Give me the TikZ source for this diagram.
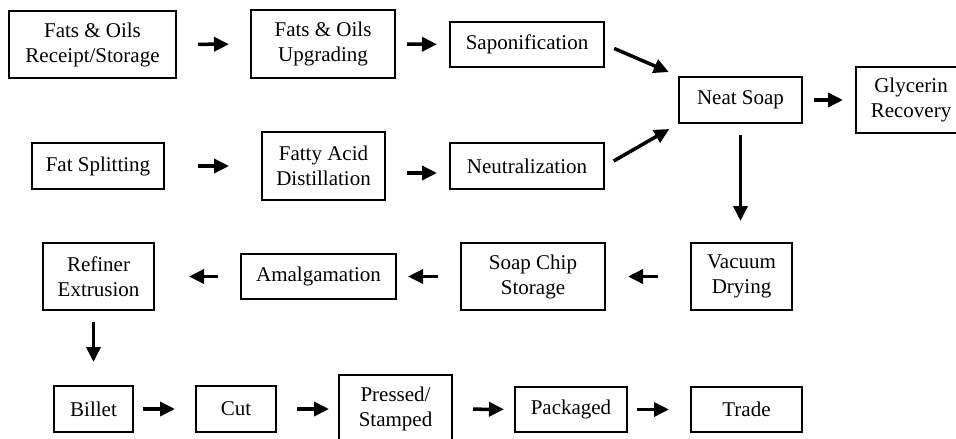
\documentclass[tikz,border=0pt]{standalone}
\usepackage{fontspec}
\setmainfont{Liberation Serif}
\usetikzlibrary{arrows.meta}

\begin{document}
\begin{tikzpicture}[x=1pt,y=-1pt,>={Triangle[length=15pt,width=14pt]},
  stage/.style={draw,line width=2pt,align=center,inner sep=0pt,font=\fontsize{21}{25}\selectfont},
  flow/.style={->,line width=3.5pt}]
  \useasboundingbox (0,0) rectangle (956,439);
  % first row
  \node[stage,minimum width=167pt,minimum height=67pt] (rcpt) at (92.5,44.5) {Fats \& Oils\\Receipt/Storage};
  \node[stage,minimum width=144pt,minimum height=68pt] (upgr) at (323,44) {Fats \& Oils\\Upgrading};
  \node[stage,minimum width=154pt,minimum height=45pt] (sapon) at (527,44.5) {Saponification};
  % second row
  \node[stage,minimum width=132pt,minimum height=46pt] (split) at (98,166) {Fat Splitting};
  \node[stage,minimum width=123pt,minimum height=68pt] (distil) at (323.5,166) {Fatty Acid\\Distillation};
  \node[stage,minimum width=154pt,minimum height=46pt] (neutr) at (527,166) {Neutralization};
  \node[stage,minimum width=123pt,minimum height=46pt] (neat) at (740.5,100) {Neat Soap};
  \node[stage,minimum width=110pt,minimum height=66pt] (glyc) at (911,100) {Glycerin\\Recovery};
  % third row
  \node[stage,minimum width=101pt,minimum height=67pt] (vacuum) at (741.5,276.5) {Vacuum\\Drying};
  \node[stage,minimum width=144pt,minimum height=67pt] (chip) at (533,276.5) {Soap Chip\\Storage};
  \node[stage,minimum width=155pt,minimum height=45pt] (amalg) at (318.5,276.5) {Amalgamation};
  \node[stage,minimum width=111pt,minimum height=67pt] (refin) at (98.5,276.5) {Refiner\\Extrusion};
  % last row
  \node[stage,minimum width=79pt,minimum height=46pt] (billet) at (93.5,409) {Billet};
  \node[stage,minimum width=80pt,minimum height=46pt] (cut) at (236,409) {Cut};
  \node[stage,minimum width=113pt,minimum height=68pt] (press) at (395.5,409) {Pressed/\\Stamped};
  \node[stage,minimum width=112pt,minimum height=45pt] (pack) at (571,409.5) {Packaged};
  \node[stage,minimum width=111pt,minimum height=45pt] (trade) at (746.5,409.5) {Trade};

  \draw[flow,shorten <=21pt,shorten >=21pt] (rcpt) -- (upgr);
  \draw[flow,shorten <=11pt,shorten >=12pt] (upgr) -- (sapon);
  \draw[flow,shorten <=33pt,shorten >=32pt] (split) -- (distil);
  \draw[flow,shorten <=21pt,shorten >=12pt] ([yshift=-7pt]distil.east) -- ([yshift=-7pt]neutr.west);
  \draw[flow,shorten <=10pt,shorten >=10pt] (sapon.east) -- (neat.north west);
  \draw[flow,shorten <=10pt,shorten >=10pt] (neutr.east) -- (neat.south west);
  \draw[flow,shorten <=11pt,shorten >=12pt] (neat) -- (glyc);
  \draw[flow,shorten <=11pt,shorten >=21pt] (neat.south) -- (neat.south |- vacuum.north);
  \draw[flow,shorten <=32pt,shorten >=22pt] (vacuum) -- (chip);
  \draw[flow,shorten <=22pt,shorten >=11pt] (chip) -- (amalg);
  \draw[flow,shorten <=22pt,shorten >=34pt] (amalg) -- (refin);
  \draw[flow,shorten <=11pt,shorten >=23pt] (refin.south -| billet.north) -- (billet.north);
  \draw[flow,shorten <=9pt,shorten >=20pt] (billet) -- (cut);
  \draw[flow,shorten <=20pt,shorten >=9pt] (cut) -- (press);
  \draw[flow,shorten <=20pt,shorten >=10pt] (press) -- (pack);
  \draw[flow,shorten <=9pt,shorten >=21pt] (pack) -- (trade);
\end{tikzpicture}
\end{document}
